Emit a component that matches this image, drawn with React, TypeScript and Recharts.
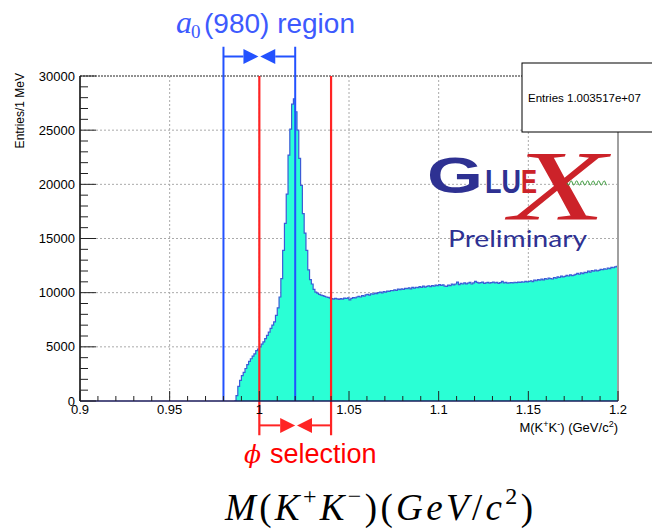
import React from 'react';
import { AreaChart, Area, XAxis, YAxis, CartesianGrid, ReferenceLine } from 'recharts';

// ---------- data ----------
const binStart = 0.986; // lower edge of the first listed bin (GeV/c^2)
const binWidth = 0.001; // 1 MeV bins
const histEnd = 1.2;
const counts = [
  0, 500, 1350, 1900, 2350, 2650, 3000, 3350, 3650, 3900,
  4150, 4350, 4650, 4800, 5000, 5250, 5450, 5750, 6050, 6350,
  6700, 7000, 7300, 7900, 8600, 9600, 11300, 13900, 16400, 19100,
  22700, 25100, 27400, 27900, 26700, 25000, 22400, 19900, 17300, 15500,
  13900, 12100, 11200, 10800, 10300, 10050, 9950, 9850, 9780, 9720,
  9650, 9600, 9560, 9500, 9450, 9400, 9480, 9420, 9380, 9450,
  9400, 9500, 9460, 9520, 9340, 9480, 9550, 9520, 9600, 9650,
  9600, 9720, 9680, 9800, 9850, 9780, 9900, 9870, 9950, 9920,
  10000, 10050, 9980, 10100, 10050, 10150, 10120, 10200, 10180, 10250,
  10220, 10320, 10280, 10350, 10300, 10400, 10380, 10450, 10350, 10480,
  10420, 10500, 10460, 10550, 10480, 10600, 10520, 10580, 10640, 10560,
  10650, 10600, 10700, 10650, 10750, 10680, 10720, 10600, 10580, 10700,
  10650, 10780, 10720, 10800, 10980, 10750, 10850, 10800, 10900, 10820,
  10880, 10950, 10800, 10900, 11050, 10950, 10880, 10920, 10980, 10850,
  10900, 10950, 10880, 10920, 10980, 10900, 10950, 10860, 10920, 11050,
  10900, 10950, 10880, 10900, 10930, 10900, 10960, 10920, 10980, 10950,
  11000, 10960, 11050, 10990, 11030, 11100, 11020, 11150, 11100, 11200,
  11150, 11250, 11180, 11300, 11240, 11350, 11300, 11260, 11400, 11350,
  11450, 11400, 11520, 11460, 11500, 11600, 11540, 11650, 11580, 11620,
  11680, 11780, 11700, 11820, 11750, 11880, 11850, 11980, 11900, 12030,
  11980, 12080, 12020, 12060, 12150, 12120, 12200, 12160, 12260, 12220,
  12330, 12300, 12380, 12430,
];

const xMajorTicks = [0.9, 0.95, 1.0, 1.05, 1.1, 1.15, 1.2];
const xTickLabels = ['0.9', '0.95', '1', '1.05', '1.1', '1.15', '1.2'];
const xMinorTicks = [
  0.91, 0.92, 0.93, 0.94, 0.96, 0.97, 0.98, 0.99, 1.01, 1.02, 1.03, 1.04,
  1.06, 1.07, 1.08, 1.09, 1.11, 1.12, 1.13, 1.14, 1.16, 1.17, 1.18, 1.19,
];
const yMajorTicks = [0, 5000, 10000, 15000, 20000, 25000, 30000];
const yTickLabels = ['0', '5000', '10000', '15000', '20000', '25000', '30000'];
const yMinorTicks = [
  1000, 2000, 3000, 4000, 6000, 7000, 8000, 9000, 11000, 12000, 13000, 14000,
  16000, 17000, 18000, 19000, 21000, 22000, 23000, 24000, 26000, 27000, 28000, 29000,
];

const a0Window = [0.98, 1.02];
const phiWindow = [1.0, 1.04];
const entriesText = 'Entries 1.003517e+07';

// layout levels (in count units) for the annotation arrows / line ends
const a0LineTop = 32700;
const a0ArrowLevel = 31800;
const phiLineBottom = -3150;
const phiArrowLevel = -2250;
const arrowGap = 0.0005;

// ---------- table built from arrays ----------
const table = counts.map((n, i) => ({ m: +(binStart + i * binWidth).toFixed(3), n }));
table.push({ m: histEnd, n: counts[counts.length - 1] });

const SANS = 'Liberation Sans, Arial, Helvetica, sans-serif';
const SERIF = 'Liberation Serif, Times New Roman, serif';
const BLUE = '#2352ff';
const RED = '#ff2424';
const NAVY = '#2e3192';

const XTick = (props: any) => {
  const { x, y, payload } = props;
  const v = payload.value;
  const idx = xMajorTicks.findIndex((t) => Math.abs(t - v) < 1e-6);
  const major = idx >= 0;
  return (
    <g>
      <line x1={x} y1={y} x2={x} y2={y - (major ? 10 : 5)} stroke="#222" strokeWidth={1} />
      {major && (
        <text x={x} y={y + 13} textAnchor="middle" fontSize={13} fontFamily={SANS} fill="#000">
          {xTickLabels[idx]}
        </text>
      )}
    </g>
  );
};

const YTick = (props: any) => {
  const { x, y, payload } = props;
  const v = payload.value;
  const idx = yMajorTicks.findIndex((t) => Math.abs(t - v) < 1e-6);
  const major = idx >= 0;
  return (
    <g>
      <line x1={x} y1={y} x2={x + (major ? 16 : 8)} y2={y} stroke="#222" strokeWidth={1} />
      {major && (
        <text x={x - 5} y={y + 4.5} textAnchor="end" fontSize={13} fontFamily={SANS} fill="#000">
          {yTickLabels[idx]}
        </text>
      )}
    </g>
  );
};

const arrowShape = (color: string) => (props: any) => {
  const { x1, y1, x2, y2 } = props;
  const dx = x2 - x1;
  const dy = y2 - y1;
  const len = Math.hypot(dx, dy) || 1;
  const ux = dx / len;
  const uy = dy / len;
  const L = 15;
  const W = 7.5;
  const bx = x2 - ux * L;
  const by = y2 - uy * L;
  const pts = `${x2},${y2} ${bx - uy * W},${by + ux * W} ${bx + uy * W},${by - ux * W}`;
  return (
    <g>
      <line x1={x1} y1={y1} x2={bx} y2={by} stroke={color} strokeWidth={2} />
      <polygon points={pts} fill={color} />
    </g>
  );
};

const wavePath = (() => {
  let d = 'M567,183';
  for (let i = 1; i <= 80; i++) {
    const xx = 567 + i * 0.5;
    const yy = 183 + 2.2 * Math.sin((i * 0.5 * 2 * Math.PI) / 5.5);
    d += ` L${xx.toFixed(2)},${yy.toFixed(2)}`;
  }
  return d;
})();

export default function App() {
  const a0Mid = (a0Window[0] + a0Window[1]) / 2;
  const phiMid = (phiWindow[0] + phiWindow[1]) / 2 + 0.0005;
  return (
    <div style={{ position: 'absolute', left: 0, top: 0, width: 652, height: 529, background: '#fff' }}>
      <AreaChart
        width={652}
        height={529}
        data={table}
        margin={{ top: 76, right: 34, bottom: 98, left: 0 }}
      >
        <CartesianGrid
          stroke="#aaa"
          strokeDasharray="2 2"
          horizontalValues={[5000, 10000, 15000, 20000, 25000]}
          verticalValues={[0.95, 1.0, 1.05, 1.1, 1.15]}
        />
        <Area
          dataKey="n"
          type="stepAfter"
          fill="#2affd5"
          fillOpacity={1}
          stroke="#3b5bd6"
          strokeWidth={1.2}
          isAnimationActive={false}
          dot={false}
          activeDot={false}
        />
        <XAxis
          dataKey="m"
          type="number"
          domain={[0.9, 1.2]}
          allowDataOverflow
          ticks={[...xMajorTicks, ...xMinorTicks].sort((a, b) => a - b)}
          interval={0}
          tickSize={0}
          tickMargin={0}
          tickLine={false}
          axisLine={{ stroke: '#1a1a5a', strokeWidth: 1.5 }}
          height={30}
          tick={<XTick />}
        />
        <YAxis
          type="number"
          domain={[0, 30000]}
          allowDataOverflow
          ticks={[...yMajorTicks, ...yMinorTicks].sort((a, b) => a - b)}
          interval={0}
          tickSize={0}
          tickMargin={0}
          tickLine={false}
          axisLine={{ stroke: '#000', strokeWidth: 1.5 }}
          width={80}
          tick={<YTick />}
        />
        <ReferenceLine y={30000} stroke="#222" strokeDasharray="2 1" ifOverflow="visible" />
        <ReferenceLine x={1.2} stroke="#a0a0a0" strokeWidth={2} ifOverflow="visible" />
        {a0Window.map((v) => (
          <ReferenceLine
            key={'a0' + v}
            segment={[{ x: v, y: 0 }, { x: v, y: a0LineTop }]}
            stroke={BLUE}
            strokeWidth={2}
            ifOverflow="visible"
          />
        ))}
        {phiWindow.map((v) => (
          <ReferenceLine
            key={'phi' + v}
            segment={[{ x: v, y: phiLineBottom }, { x: v, y: 30000 }]}
            stroke={RED}
            strokeWidth={2.2}
            ifOverflow="visible"
          />
        ))}
        <ReferenceLine
          segment={[{ x: a0Window[0], y: a0ArrowLevel }, { x: a0Mid - arrowGap, y: a0ArrowLevel }]}
          ifOverflow="visible"
          shape={arrowShape(BLUE)}
        />
        <ReferenceLine
          segment={[{ x: a0Window[1], y: a0ArrowLevel }, { x: a0Mid + arrowGap, y: a0ArrowLevel }]}
          ifOverflow="visible"
          shape={arrowShape(BLUE)}
        />
        <ReferenceLine
          segment={[{ x: phiWindow[0], y: phiArrowLevel }, { x: phiMid - arrowGap, y: phiArrowLevel }]}
          ifOverflow="visible"
          shape={arrowShape(RED)}
        />
        <ReferenceLine
          segment={[{ x: phiWindow[1], y: phiArrowLevel }, { x: phiMid + arrowGap, y: phiArrowLevel }]}
          ifOverflow="visible"
          shape={arrowShape(RED)}
        />
      </AreaChart>
      <svg
        width={652}
        height={529}
        style={{ position: 'absolute', left: 0, top: 0, pointerEvents: 'none' }}
      >
        {/* title */}
        <text x={176} y={33} fontFamily={SERIF} fontStyle="italic" fontSize={32} fill="#3d5afe">a</text>
        <text x={191} y={38} fontFamily={SERIF} fontSize={19} fill="#3d5afe">0</text>
        <text x={204} y={33} fontFamily={SANS} fontSize={28} fill="#3d5afe">(980) region</text>

        {/* phi selection */}
        <text x={244} y={463} fontFamily="DejaVu Serif, serif" fontStyle="italic" fontSize={25} fill="#ff0000">ϕ</text>
        <text x={270} y={463} fontFamily={SANS} fontSize={27} fill="#ff0000">selection</text>

        {/* bottom formula */}
        <text x={225} y={520} fontFamily={SERIF} fontSize={37} fill="#000" textLength={308} lengthAdjust="spacing">
          <tspan fontStyle="italic">M</tspan>
          <tspan>(</tspan>
          <tspan fontStyle="italic">K</tspan>
          <tspan fontSize={24} dy={-16}>+</tspan>
          <tspan fontStyle="italic" dy={16}>K</tspan>
          <tspan fontSize={24} dy={-16}>−</tspan>
          <tspan dy={16}>)(</tspan>
          <tspan fontStyle="italic">GeV</tspan>
          <tspan>/</tspan>
          <tspan fontStyle="italic">c</tspan>
          <tspan fontSize={24} dy={-16}>2</tspan>
          <tspan dy={16}>)</tspan>
        </text>

        {/* axis titles */}
        <text
          x={23.5}
          y={73}
          transform="rotate(-90 23.5 73)"
          textAnchor="end"
          fontFamily={SANS}
          fontSize={12}
          fill="#000"
        >
          Entries/1 MeV
        </text>
        <text x={618} y={432} textAnchor="end" fontFamily={SANS} fontSize={13} fill="#000">
          M(K<tspan dy={-5} fontSize={9}>+</tspan>
          <tspan dy={5}>K</tspan>
          <tspan dy={-5} fontSize={9}>-</tspan>
          <tspan dy={5}>) (GeV/c</tspan>
          <tspan dy={-5} fontSize={9}>2</tspan>
          <tspan dy={5}>)</tspan>
        </text>

        {/* stats box */}
        <rect x={522} y={63} width={140} height={69} fill="#fff" stroke="#000" strokeWidth={1} />
        <text x={528} y={102} fontFamily={SANS} fontSize={11.5} fill="#000">{entriesText}</text>

        {/* GlueX logo */}
        <text x={427} y={193} fontFamily={SANS} fontWeight={700} fontSize={50} fill={NAVY} textLength={56} lengthAdjust="spacingAndGlyphs">G</text>
        <text x={485} y={193} fontFamily={SANS} fontWeight={700} fontSize={33} fill={NAVY} textLength={36} lengthAdjust="spacingAndGlyphs">LU</text>
        <text x={521} y={193} fontFamily={SANS} fontWeight={700} fontSize={33} fill="#cc2229" textLength={16} lengthAdjust="spacingAndGlyphs">E</text>
        <text x={510} y={219} fontFamily={SERIF} fontStyle="italic" fontSize={100} fill="#cc2229" textLength={96} lengthAdjust="spacingAndGlyphs">X</text>
        <path d={wavePath} fill="none" stroke="#3a9a3a" strokeWidth={1} />
        <text x={448} y={247} fontFamily="Lato, Open Sans, sans-serif" fontSize={23} fill={NAVY} textLength={139} lengthAdjust="spacingAndGlyphs">Preliminary</text>
      </svg>
    </div>
  );
}
